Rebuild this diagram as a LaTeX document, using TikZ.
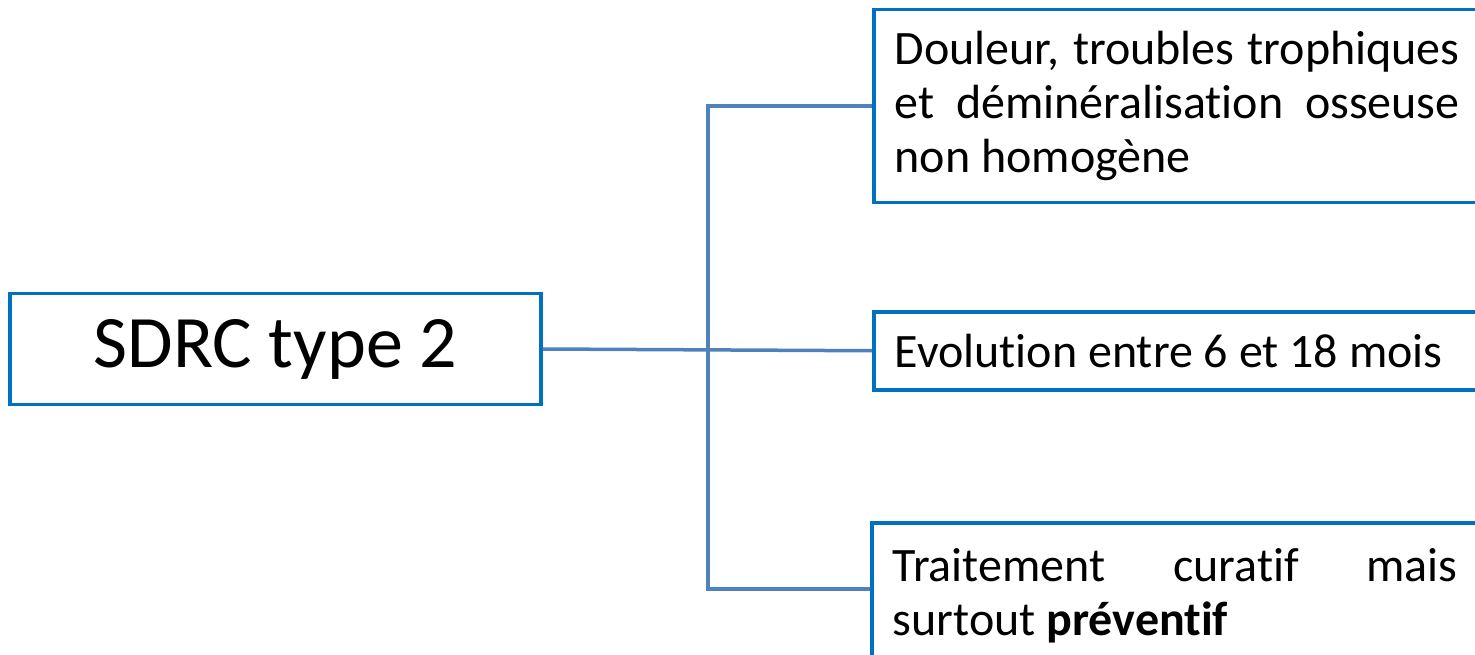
\documentclass[tikz,border=0pt]{standalone}
\usepackage{fontspec}
\setmainfont{Carlito}[Ligatures = NoCommon]
\usetikzlibrary{positioning}
\definecolor{boxblue}{HTML}{0070C0}
\definecolor{linkblue}{HTML}{4F81BD}
\newcommand{\boxfont}{\fontsize{48}{54}\selectfont\hyphenpenalty = 10000\relax}
\tikzset{box/.style = {draw = boxblue, line width = 3.5, inner ysep = 0, inner xsep = 21,
                       text width = 565, align = justify, anchor = north west,
                       font = \boxfont}}
\tikzset{link/.style = {draw = linkblue, line width = 3.5}}

\begin{document}
\begin{tikzpicture}[x = 1pt, y = -1pt]
      \useasboundingbox (0, 0) rectangle (1475, 655);
      \clip (0, 0) rectangle (1475, 655);

      \node [draw = boxblue, line width = 3.5, minimum width = 531, minimum height = 111,
             font = \fontsize{74}{80}\selectfont] (main) at (275.5, 349) {SDRC type 2};

      \node [box, minimum height = 193] (signs) at (872, 8)
        {Douleur, troubles trophiques\linebreak et déminéralisation osseuse\linebreak non homogène};
      \node [box, minimum height = 78] (course) at (872, 310) {Evolution entre 6 et 18 mois};
      \node [box, minimum height = 146] (care) at (870, 521)
        {Traitement curatif mais\linebreak surtout \textbf{préventif}};

      \coordinate (fork) at (708, 349);
      \draw [link] (main.east) -- (course.west);
      \draw [link] (signs.west) -| (fork) |- ([yshift = 7pt]care.west);
    \end{tikzpicture}
\end{document}
